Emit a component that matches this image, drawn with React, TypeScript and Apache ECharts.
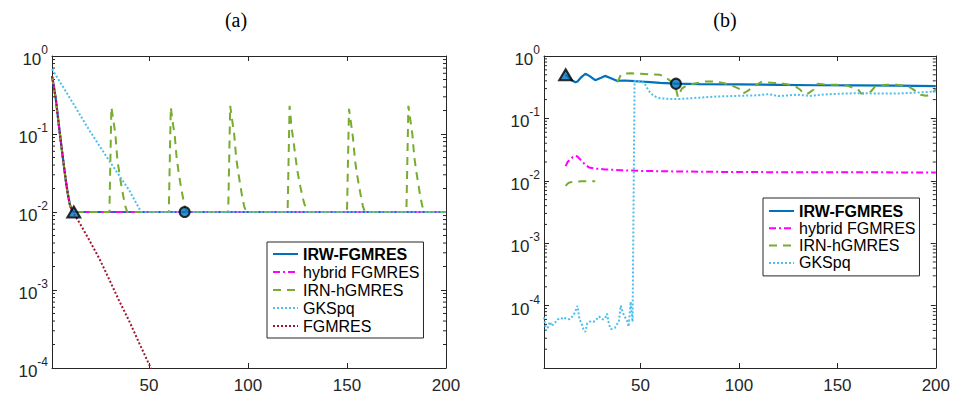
import React, { useEffect, useRef } from "react";
import * as echarts from "echarts";

const FONT = "'Liberation Sans', Arial, Helvetica, sans-serif";
const AX = "#262626";
const C_IRW = "#0072BD";
const C_HYB = "#FF00FF";
const C_IRN = "#77AC30";
const C_GKS = "#4DBEEE";
const C_FG = "#A2142F";

const legendA = ["IRW-FGMRES", "hybrid FGMRES", "IRN-hGMRES", "GKSpq", "FGMRES"];
const legendB = ["IRW-FGMRES", "hybrid FGMRES", "IRN-hGMRES", "GKSpq"];
const xTickValues = [50, 100, 150, 200];
const decadesA = [-4, -3, -2, -1];
const decadesB = [-5, -4, -3, -2, -1];
const minorMultipliers = [2, 3, 4, 5, 6, 7, 8, 9];

// ---- panel (a) ----
const aIRW: [number, number][] = [
  [1, 0.55], [2, 0.4], [3, 0.27], [4, 0.165], [5, 0.1], [6, 0.062], [7, 0.039], [8, 0.025],
  [9, 0.017], [10, 0.0125], [11, 0.0106], [12, 0.01], [200, 0.01],
];
const aHybrid: [number, number][] = [
  [1, 0.55], [2, 0.4], [3, 0.27], [4, 0.165], [5, 0.1], [6, 0.062], [7, 0.039], [8, 0.025],
  [9, 0.017], [10, 0.0125], [11, 0.0106], [12, 0.01], [200, 0.01],
];
const aIRN: [number, number][] = [
  [1, 0.55], [2, 0.4], [3, 0.27], [4, 0.165], [5, 0.1], [6, 0.062], [7, 0.039], [8, 0.025],
  [9, 0.017], [10, 0.0125], [11, 0.0106], [12, 0.01],
  [30, 0.01], [31, 0.22], [32, 0.15], [33, 0.1], [34, 0.047], [35, 0.032], [36, 0.022], [37, 0.016], [38, 0.012], [39, 0.01],
  [60, 0.01], [61, 0.22], [62, 0.14], [63, 0.095], [64, 0.048], [65, 0.032], [66, 0.022], [67, 0.016], [68, 0.012], [69, 0.01],
  [90, 0.01], [91, 0.23], [92, 0.15], [93, 0.1], [94, 0.05], [95, 0.033], [96, 0.023], [97, 0.016], [98, 0.012], [99, 0.01],
  [120, 0.01], [121, 0.23], [122, 0.12], [123, 0.08], [124, 0.05], [125, 0.033], [126, 0.024], [127, 0.018], [128, 0.014], [129, 0.0115], [130, 0.01],
  [150, 0.01], [151, 0.21], [152, 0.14], [153, 0.09], [154, 0.047], [155, 0.031], [156, 0.022], [157, 0.016], [158, 0.012], [159, 0.01],
  [180, 0.01], [181, 0.23], [182, 0.15], [183, 0.1], [184, 0.05], [185, 0.033], [186, 0.023], [187, 0.016], [188, 0.012], [189, 0.01],
  [200, 0.01],
];
const aGKS: [number, number][] = [
  [1, 0.68], [10, 0.29], [20, 0.11], [30, 0.045], [40, 0.019], [46, 0.01], [200, 0.01],
];
const aFGMRES: [number, number][] = [
  [1, 0.55], [2, 0.4], [3, 0.27], [4, 0.165], [5, 0.1], [6, 0.062], [7, 0.039], [8, 0.025],
  [9, 0.017], [10, 0.0125], [11, 0.0105], [12, 0.0095], [15, 0.0072], [20, 0.0043], [25, 0.0025],
  [30, 0.00135], [35, 0.00072], [40, 0.0004], [45, 0.00021], [50, 0.000112], [53, 0.000076],
];
const aTriangle: [number, number][] = [[12, 0.01]];
const aCircle: [number, number][] = [[68, 0.01]];

// ---- panel (b) ----
const bIRW: [number, number][] = [
  [12, 0.5], [14, 0.44], [15, 0.41], [17, 0.38], [18, 0.39], [20, 0.46], [22, 0.52], [24, 0.48],
  [27, 0.41], [30, 0.45], [32, 0.48], [35, 0.44], [38, 0.4], [42, 0.405], [47, 0.395], [50, 0.39],
  [55, 0.38], [60, 0.37], [68, 0.36], [80, 0.355], [100, 0.35], [120, 0.345], [140, 0.34],
  [160, 0.338], [180, 0.335], [200, 0.33],
];
const bHybrid: [number, number][] = [
  [12, 0.0172], [13, 0.02], [14.5, 0.0225], [16, 0.0245], [17, 0.025], [18, 0.0245], [20, 0.021],
  [22, 0.018], [24, 0.0163], [27, 0.0157], [32, 0.0152], [40, 0.0148], [50, 0.0144], [70, 0.0141],
  [100, 0.0138], [150, 0.0137], [200, 0.0136],
];
const bIRN: [number, number | null][] = [
  [12, 0.0083], [13, 0.009], [14, 0.0094], [16, 0.0097], [20, 0.0098], [27, 0.0098], [32, null],
  [38, 0.38], [39, 0.42], [40, 0.5], [42, 0.52], [45, 0.53], [50, 0.52], [55, 0.51], [60, 0.5],
  [63, 0.45], [66, 0.38], [68, 0.3], [69, 0.22], [71, 0.3], [73, 0.33], [77, 0.36], [83, 0.39],
  [87, 0.39], [92, 0.37], [96, 0.34], [100, 0.3], [102, 0.25], [104, 0.27], [108, 0.33], [111, 0.38],
  [118, 0.37], [120, 0.37], [125, 0.35], [129, 0.32], [131, 0.29], [133, 0.25], [135, 0.25],
  [138, 0.29], [140, 0.36], [146, 0.345], [150, 0.345], [155, 0.335], [158, 0.31], [161, 0.28],
  [162, 0.25], [165, 0.25], [167, 0.27], [169, 0.32], [172, 0.34], [175, 0.345], [180, 0.345],
  [185, 0.335], [188, 0.3], [190, 0.27], [192, 0.24], [195, 0.23], [197, 0.24], [200, 0.29],
];
const bGKS: [number, number][] = [
  [1, 6.5e-5], [2, 4.0e-5], [3, 4.5e-5], [4, 5.5e-5], [5, 4.7e-5], [6, 5.2e-5], [7, 5.5e-5],
  [8, 6.0e-5], [9, 6.3e-5], [10, 6.2e-5], [11, 6.5e-5], [12, 6.2e-5], [13, 6.0e-5], [14, 6.1e-5],
  [15, 6.5e-5], [16, 7.0e-5], [17, 8.2e-5], [18, 9.9e-5], [19, 6.0e-5], [20, 5.3e-5], [21, 4.2e-5],
  [22, 3.8e-5], [23, 5.2e-5], [24, 5.5e-5], [25, 5.6e-5], [26, 5.5e-5], [27, 5.7e-5], [28, 6.2e-5],
  [29, 6.7e-5], [30, 6.2e-5], [31, 6.0e-5], [32, 6.3e-5], [33, 7.4e-5], [34, 5.0e-5], [35, 4.2e-5],
  [36, 4.3e-5], [37, 4.4e-5], [38, 5.0e-5], [39, 5.5e-5], [40, 1.0e-4], [41, 7.8e-5], [42, 6.6e-5],
  [43, 6.0e-5], [44, 4.6e-5], [45, 1.15e-4], [46, 5.5e-5], [47, 0.4], [50, 0.39], [52, 0.37],
  [54, 0.28], [56, 0.24], [58, 0.22], [60, 0.21], [65, 0.205], [70, 0.205], [80, 0.215], [90, 0.225],
  [100, 0.23], [110, 0.235], [115, 0.245], [120, 0.228], [130, 0.24], [136, 0.228], [142, 0.24],
  [150, 0.248], [160, 0.254], [170, 0.25], [180, 0.25], [191, 0.26], [200, 0.27],
];
const bTriangle: [number, number][] = [[12, 0.5]];
const bCircle: [number, number][] = [[68, 0.36]];

const minorValues = (decades: number[]) => {
  const out: [number, number][] = [];
  decades.forEach((d) => minorMultipliers.forEach((m) => out.push([1, m * Math.pow(10, d)])));
  return out;
};

const supLabel = (minExp: number) => (v: number) => {
  const l = Math.log10(v);
  const e = Math.round(l);
  if (Math.abs(l - e) > 1e-6 || e < minExp) return "";
  return `{b|10}{s|${e}}`;
};

const richY = {
  b: { fontSize: 17, fontFamily: FONT, color: AX, verticalAlign: "bottom" },
  s: { fontSize: 12, fontFamily: FONT, color: AX, verticalAlign: "bottom", padding: [0, 0, 12, 0] },
};

export default function App() {
  const ref = useRef<HTMLDivElement>(null);
  useEffect(() => {
    if (!ref.current) return;
    const chart = echarts.init(ref.current, undefined, { renderer: "svg" });

    const grids = [
      { left: 52, top: 56, width: 394, height: 312 },
      { left: 544, top: 56, width: 394, height: 312 },
    ];
    const axisLine = { show: true, lineStyle: { color: AX, width: 1 } };

    const mkX = (gi: number, pos: "bottom" | "top") => ({
      type: "value",
      gridIndex: gi,
      position: pos,
      min: 1,
      max: 200,
      axisLine: { ...axisLine, onZero: false },
      splitLine: { show: false },
      axisTick: { show: true, inside: true, length: 5, lineStyle: { color: AX }, customValues: xTickValues },
      axisLabel: {
        show: pos === "bottom",
        customValues: xTickValues,
        fontSize: 17,
        fontFamily: FONT,
        color: AX,
        margin: 9,
      },
    });
    const mkY = (gi: number, pos: "left" | "right", min: number, minExp: number) => ({
      type: "log",
      logBase: 10,
      gridIndex: gi,
      position: pos,
      min,
      max: 1,
      axisLine: { ...axisLine, onZero: false },
      splitLine: { show: false },
      axisTick: { show: true, inside: true, length: 5, lineStyle: { color: AX } },
      axisLabel: {
        show: pos === "left",
        formatter: supLabel(minExp),
        rich: richY,
        margin: 4,
      },
    });

    const line = (name: string, data: any[], xi: number, color: string, type: any, width = 2, z = 2) => ({
      type: "line",
      name,
      data,
      xAxisIndex: xi,
      yAxisIndex: xi,
      symbol: "none",
      showSymbol: false,
      clip: true,
      connectNulls: false,
      z,
      lineStyle: { color, width, type, cap: "butt" },
      itemStyle: { color },
      emphasis: { disabled: true },
    });

    const marker = (data: any[], xi: number, symbol: string, size: any) => ({
      type: "scatter",
      name: "marker",
      data,
      xAxisIndex: xi,
      yAxisIndex: xi,
      symbol,
      symbolSize: size,
      z: 10,
      itemStyle: { color: C_IRW, borderColor: "#000", borderWidth: 2 },
      emphasis: { disabled: true },
    });

    const minorTicks = (data: any[], xi: number) => ({
      type: "custom",
      name: "minor",
      xAxisIndex: xi,
      yAxisIndex: xi,
      data,
      silent: true,
      z: 1,
      renderItem: (params: any, api: any) => {
        const v = api.value(1);
        const p1 = api.coord([1, v]);
        const p2 = api.coord([200, v]);
        const st = { stroke: AX, lineWidth: 1 };
        return {
          type: "group",
          children: [
            { type: "line", shape: { x1: p1[0], y1: p1[1], x2: p1[0] + 3, y2: p1[1] }, style: st },
            { type: "line", shape: { x1: p2[0] - 3, y1: p2[1], x2: p2[0], y2: p2[1] }, style: st },
          ],
        };
      },
    });

    const DASH = [8, 6];
    const DASHDOT = [7, 3, 2, 3];
    const DOT = [2, 2];

    const legendCommon = {
      orient: "vertical",
      backgroundColor: "#fff",
      borderColor: AX,
      borderWidth: 1,
      borderRadius: 0,
      itemWidth: 25,
      itemHeight: 14,
      selectedMode: false,
      itemStyle: { opacity: 0, borderWidth: 0 },
      textStyle: {
        fontSize: 16,
        fontFamily: FONT,
        color: "#000",
        rich: { b: { fontSize: 16, fontFamily: FONT, fontWeight: "bold", color: "#000" } },
      },
      formatter: (n: string) => (n === "IRW-FGMRES" ? `{b|${n}}` : n),
    };

    chart.setOption({
      animation: false,
      grid: grids,
      xAxis: [mkX(0, "bottom"), mkX(0, "top"), mkX(1, "bottom"), mkX(1, "top")],
      yAxis: [mkY(0, "left", 1e-4, -4), mkY(0, "right", 1e-4, -4), mkY(1, "left", 1e-5, -4), mkY(1, "right", 1e-5, -4)],
      legend: [
        { ...legendCommon, data: legendA, left: 267, top: 242, itemGap: 2, padding: [4, 4, 4, 5] },
        { ...legendCommon, data: legendB, left: 763, top: 198, itemGap: 1.3, padding: [5, 4, 5, 5] },
      ],
      graphic: [
        { type: "text", x: 236, y: 20, style: { text: "(a)", font: "20px 'Liberation Serif', serif", fill: "#000", textAlign: "center", textVerticalAlign: "middle" } },
        { type: "text", x: 725, y: 20, style: { text: "(b)", font: "20px 'Liberation Serif', serif", fill: "#000", textAlign: "center", textVerticalAlign: "middle" } },
      ],
      series: [
        minorTicks(minorValues(decadesA), 0),
        minorTicks(minorValues(decadesB), 2),
        line("IRW-FGMRES", aIRW, 0, C_IRW, "solid", 2.2),
        line("hybrid FGMRES", aHybrid, 0, C_HYB, DASHDOT),
        line("IRN-hGMRES", aIRN, 0, C_IRN, DASH),
        line("GKSpq", aGKS, 0, C_GKS, DOT),
        line("FGMRES", aFGMRES, 0, C_FG, DOT),
        marker(aTriangle, 0, "triangle", [13, 11]),
        marker(aCircle, 0, "circle", 10),
        line("IRW-FGMRES", bIRW, 2, C_IRW, "solid", 2.2),
        line("hybrid FGMRES", bHybrid, 2, C_HYB, DASHDOT),
        line("IRN-hGMRES", bIRN, 2, C_IRN, DASH),
        line("GKSpq", bGKS, 2, C_GKS, DOT),
        marker(bTriangle, 2, "triangle", [13, 11]),
        marker(bCircle, 2, "circle", 10),
      ],
    });
    return () => chart.dispose();
  }, []);
  return <div ref={ref} style={{ width: 953, height: 396, position: "absolute", left: 0, top: 0, background: "#fff" }} />;
}
